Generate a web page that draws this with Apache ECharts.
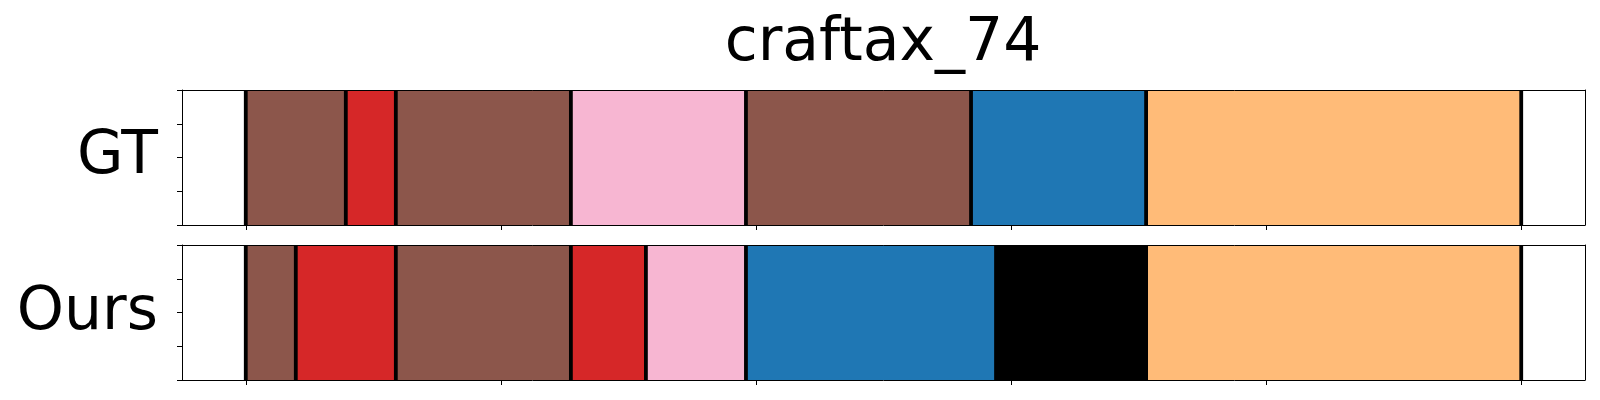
<!DOCTYPE html>
<html>
<head>
<meta charset="utf-8">
<script src="https://cdn.jsdelivr.net/npm/echarts@6/dist/echarts.min.js"></script>
<style>
html,body{margin:0;padding:0;background:#fff;}
#chart{width:1600px;height:400px;}
</style>
</head>
<body>
<div id="chart"></div>
<script>
// ---- data ----
const chartTitle = 'craftax_74';
const rowLabels = ['GT', 'Ours'];
const totalSteps = 51;
// segment boundaries (in steps) and segment colours
const gtBounds = [0, 4, 6, 13, 20, 29, 36, 51];
const gtColors = ['#8c564b', '#d62728', '#8c564b', '#f7b6d2', '#8c564b', '#1f77b4', '#ffbb78'];
const oursBounds = [0, 2, 6, 13, 16, 20, 30, 36, 51];
const oursColors = ['#8c564b', '#d62728', '#8c564b', '#d62728', '#f7b6d2', '#1f77b4', '#000000', '#ffbb78'];
const xTickValues = [0, 0.2, 0.4, 0.6, 0.8, 1.0];
const yTickInterval = 0.25;

// ---- build ----
function segData(bounds, colors) {
  const out = [];
  for (let i = 0; i < colors.length; i++) {
    out.push({ value: [bounds[i] / totalSteps, bounds[i + 1] / totalSteps], itemStyle: { color: colors[i] } });
  }
  return out;
}
function boundData(bounds) {
  return bounds.map(b => [b / totalSteps]);
}
function renderSeg(params, api) {
  const p0 = api.coord([api.value(0), 1]);
  const p1 = api.coord([api.value(1), 0]);
  return {
    type: 'rect',
    shape: { x: p0[0], y: p0[1], width: p1[0] - p0[0], height: p1[1] - p0[1] },
    style: { fill: api.visual('color') }
  };
}
function renderLine(params, api) {
  const a = api.coord([api.value(0), 1]);
  const b = api.coord([api.value(0), 0]);
  return {
    type: 'line',
    shape: { x1: a[0], y1: a[1], x2: b[0], y2: b[1] },
    style: { stroke: '#000', lineWidth: 3.8 }
  };
}

const gridTops = [90, 245];
const grids = gridTops.map(t => ({ left: 182, right: 15, top: t, height: 135, containLabel: false }));

const xAxes = [], yAxes = [];
[0, 1].forEach(g => {
  xAxes.push({
    type: 'value', gridIndex: g, min: -0.05, max: 1.05, position: 'bottom', z: 10,
    axisLine: { show: true, onZero: false, lineStyle: { color: '#000', width: 1 } },
    axisTick: { show: true, customValues: xTickValues, length: 5, lineStyle: { color: '#000', width: 1 } },
    axisLabel: { show: false }, splitLine: { show: false }
  });
  xAxes.push({
    type: 'value', gridIndex: g, min: -0.05, max: 1.05, position: 'top', z: 10,
    axisLine: { show: true, onZero: false, lineStyle: { color: '#000', width: 1 } },
    axisTick: { show: false }, axisLabel: { show: false }, splitLine: { show: false }
  });
  yAxes.push({
    type: 'value', gridIndex: g, min: 0, max: 1, interval: yTickInterval, position: 'left', z: 10,
    axisLine: { show: true, onZero: false, lineStyle: { color: '#000', width: 1 } },
    axisTick: { show: true, length: 5, lineStyle: { color: '#000', width: 1 } },
    axisLabel: { show: false }, splitLine: { show: false }
  });
  yAxes.push({
    type: 'value', gridIndex: g, min: 0, max: 1, position: 'right', z: 10,
    axisLine: { show: true, onZero: false, lineStyle: { color: '#000', width: 1 } },
    axisTick: { show: false }, axisLabel: { show: false }, splitLine: { show: false }
  });
});

const rows = [[gtBounds, gtColors], [oursBounds, oursColors]];
const series = [];
rows.forEach((r, g) => {
  series.push({ type: 'custom', xAxisIndex: g * 2, yAxisIndex: g * 2, renderItem: renderSeg, data: segData(r[0], r[1]), z: 2, silent: true });
  series.push({ type: 'custom', xAxisIndex: g * 2, yAxisIndex: g * 2, renderItem: renderLine, data: boundData(r[0]), z: 3, silent: true });
});

const font = '"DejaVu Sans", sans-serif';
const chart = echarts.init(document.getElementById('chart'), null, { renderer: 'canvas' });
chart.setOption({
  animation: false,
  backgroundColor: '#fff',
  grid: grids,
  xAxis: xAxes,
  yAxis: yAxes,
  series: series,
  graphic: [
    { type: 'text', style: { text: chartTitle, font: '60px ' + font, fill: '#000', textAlign: 'center', textVerticalAlign: 'middle', x: 883, y: 44 } },
    { type: 'text', style: { text: rowLabels[0], font: '60px ' + font, fill: '#000', textAlign: 'right', textVerticalAlign: 'middle', x: 158, y: 157 } },
    { type: 'text', style: { text: rowLabels[1], font: '60px ' + font, fill: '#000', textAlign: 'right', textVerticalAlign: 'middle', x: 158, y: 313 } }
  ]
});
</script>
</body>
</html>
